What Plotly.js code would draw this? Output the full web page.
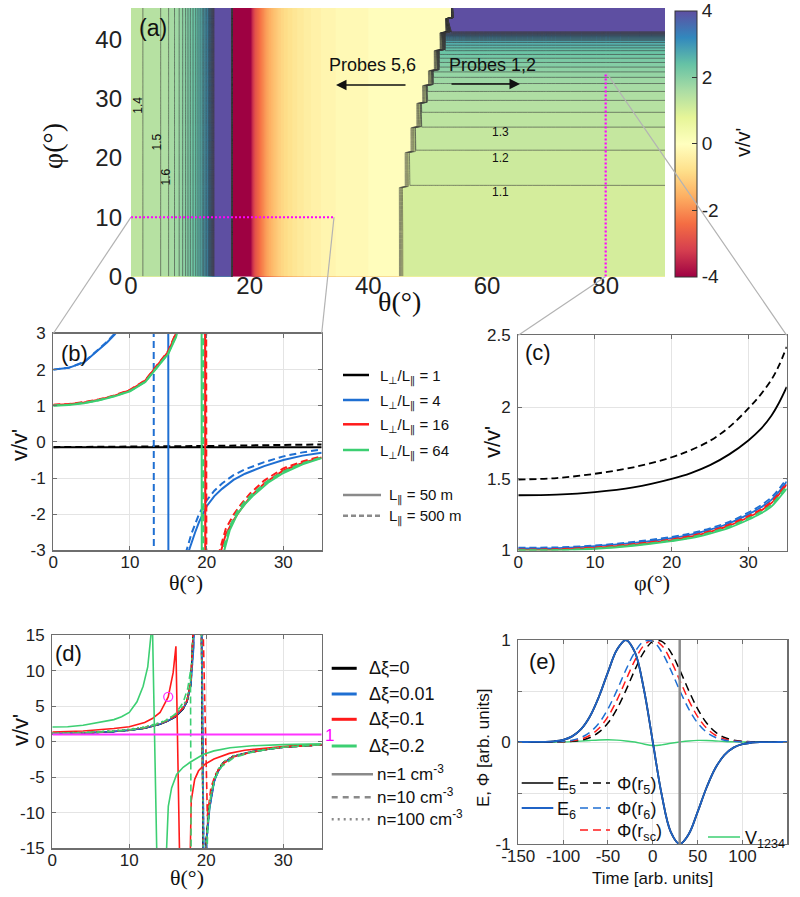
<!DOCTYPE html>
<html><head><meta charset="utf-8">
<script src="https://cdn.plot.ly/plotly-3.0.1.min.js"></script>
<style>html,body{margin:0;padding:0;background:#fff}#plot{width:800px;height:897px}</style>
</head><body><div id="plot"></div>
<script>
// ---------------- Panel (a) data ----------------
const thetaA = [0,2,4,5,6,7,8,9,10,11,12,13,13.5,14,15,16,16.95,17.05,18,19,20,20.5,21,22,23,24,25,26,28,30,32,35,40,44,45,46,47,48,49,50,51,52,53,54,55,56,60,70,80,90];
const leftV  = [1.35,1.40,1.47,1.5,1.57,1.66,1.78,1.95,2.2,2.42,2.7,3.1,3.5,4.0,5.2,7.5,20,-20,-9,-5.6,-4.3,-3.4,-2.8,-2.2,-1.7,-1.35,-1.05,-0.85,-0.6,-0.42,-0.3,-0.18,-0.1,-0.07,-0.06,-0.06,-0.05,-0.05,-0.05,-0.05,-0.05,-0.05,-0.05,-0.05,-0.05,-0.05,-0.04,-0.04,-0.04,-0.04];
const phiA   = [0,7.5,15.0,15.2,18,20.9,21.1,23,25.1,25.3,27.7,29.2,29.4,30.8,32.2,32.4,33.6,34.7,34.9,36.5,38.1,38.3,39.7,40.5,41.1,41.3,42.4,43.5,43.7,45.3];
const rightV = [1.0,1.02,1.093,1.097,1.145,1.192,1.195,1.24,1.297,1.303,1.40,1.47,1.48,1.57,1.67,1.685,1.8,1.92,1.945,2.15,2.4,2.44,2.75,3.2,3.8,4.0,6,10,12,20];
const edgeTheta = [46,46,46,47,47,47,48,48,48,49,49,49,50,50,50,51,51,51,52,52,52,53,53,53,53,54,54,54,55,55];
const cutPhi = 10, cutTheta = 80, cutSpan = [0, 34.3];
const cbTicks = [-4,-2,0,2,4];

// ---------------- Panel (b) data ----------------
const thB_k = [0,10,20,30,35];
const vB_k_s = [-0.145,-0.145,-0.145,-0.145,-0.145];
const vB_k_d = [-0.145,-0.135,-0.113,-0.085,-0.072];
const thB_b_s = [0,2,4,6,7,8,9,10,12,14,14.9,15.1,16,17,17.7,18.5,19,20,21,22,23.5,25,27.5,30,32.5,35];
const vB_b_s  = [2.0,2.05,2.2,2.55,2.75,2.97,3.25,3.6,4.8,8,40,-40,-6,-3.7,-3.0,-2.5,-2.22,-1.78,-1.5,-1.3,-1.05,-0.88,-0.67,-0.5,-0.38,-0.3];
const thB_b_d = [0,2,4,6,7,8,9,10,12,13.0,13.2,14,15,16,17.4,18,19,20,21,22,23.5,25,27.5,30,32.5,35];
const vB_b_d  = [2.0,2.05,2.21,2.57,2.77,3.0,3.3,3.7,6,40,-40,-10,-5.5,-4.0,-3.0,-2.55,-2.0,-1.62,-1.35,-1.15,-0.92,-0.76,-0.56,-0.4,-0.29,-0.21];
const thB_r_s = [0,2,4,6,8,10,12,13,14,15,16,16.5,17,18,19,19.7,19.9,20.5,21,21.9,22.5,23.5,24.5,25.7,27.5,30,32.5,35];
const vB_r_s  = [1.02,1.04,1.09,1.17,1.28,1.43,1.7,1.97,2.22,2.5,3.0,3.35,3.8,5,8,30,-30,-10,-6,-3.0,-2.55,-2.17,-1.85,-1.52,-1.15,-0.79,-0.58,-0.43];
const thB_r_d = [0,2,4,6,8,10,12,13,14,15,16,16.5,17,18,19,19.85,20.05,20.5,21,21.7,22.5,23.5,24.5,25.7,27.5,30,32.5,35];
const vB_r_d  = [1.03,1.05,1.1,1.18,1.29,1.44,1.71,1.98,2.24,2.52,3.02,3.4,3.85,5.1,8.5,30,-30,-12,-6.5,-3.0,-2.4,-2.02,-1.72,-1.42,-1.07,-0.73,-0.54,-0.4];
const thB_g_s = [0,2,4,6,8,10,12,13,14,15,16,16.5,17,18,19,19.25,19.45,20,21,22.3,23,24,25,26,28,30,32.5,35];
const vB_g_s  = [1.0,1.02,1.07,1.15,1.26,1.4,1.66,1.92,2.17,2.44,2.9,3.25,3.7,5,9,30,-30,-12,-5.5,-3.0,-2.45,-2.0,-1.72,-1.5,-1.13,-0.86,-0.62,-0.45];
const thB_g_d = [0,2,4,6,8,10,12,13,14,15,16,16.5,17,18,19,19.45,19.65,20,21,22.1,23,24,25,26,28,30,32.5,35];
const vB_g_d  = [1.01,1.03,1.08,1.16,1.27,1.41,1.67,1.93,2.19,2.46,2.93,3.3,3.75,5.1,9.5,30,-30,-12,-5.8,-3.0,-2.35,-1.92,-1.64,-1.43,-1.08,-0.82,-0.59,-0.43];

// ---------------- Panel (c) data ----------------
const phiC   = [0,5,10,15,20,22.5,25,27.5,30,31.5,33,34,35];
const vC_k_s = [1.385,1.39,1.407,1.44,1.5,1.54,1.595,1.67,1.767,1.84,1.94,2.03,2.14];
const vC_k_d = [1.495,1.505,1.535,1.58,1.65,1.70,1.765,1.86,1.99,2.08,2.19,2.29,2.42];
const vC_b_s = [1.015,1.017,1.03,1.053,1.087,1.111,1.145,1.19,1.252,1.296,1.353,1.41,1.48];
const vC_b_d = [1.02,1.022,1.035,1.06,1.095,1.12,1.155,1.2,1.265,1.31,1.37,1.43,1.5];
const vC_r_s = [1.004,1.006,1.018,1.04,1.073,1.096,1.13,1.173,1.232,1.274,1.33,1.39,1.46];
const vC_r_d = [1.008,1.01,1.022,1.045,1.078,1.102,1.135,1.18,1.24,1.283,1.34,1.4,1.47];
const vC_g_s = [1.0,1.002,1.012,1.033,1.065,1.086,1.118,1.158,1.214,1.254,1.306,1.365,1.43];
const vC_g_d = [1.002,1.004,1.015,1.037,1.07,1.092,1.125,1.167,1.225,1.266,1.32,1.38,1.45];

// ---------------- Panel (d) data ----------------
const thD_k  = [0,4,8,10,12,14,15,16,17,17.5,18,18.3,18.5,19.2,19.8,20.0,20.4,21.0,21.5,22.2,23.5,25.7,28,30,32.5,35];
const vD_k_s = [1.12,1.2,1.42,1.6,1.9,2.45,2.9,3.5,4.6,5.6,8.0,13,20,40,-40,-14,-9.3,-5.6,-4.2,-3.0,-2.1,-1.5,-1.05,-0.78,-0.57,-0.43];
const vD_k_d = [1.12,1.2,1.42,1.61,1.91,2.46,2.92,3.52,4.62,5.65,8.1,13.2,20,40,-40,-14,-9.2,-5.55,-4.15,-2.98,-2.08,-1.49,-1.04,-0.77,-0.57,-0.43];
const vD_k_p = [1.12,1.2,1.42,1.61,1.91,2.47,2.93,3.53,4.64,5.68,8.15,13.3,20,40,-40,-14,-9.2,-5.5,-4.1,-2.96,-2.07,-1.48,-1.04,-0.77,-0.56,-0.43];
const thD_b  = [0,4,8,10,12,14,15,16,17,17.5,18,18.35,18.55,19.25,19.85,20.05,20.45,21.05,21.55,22.25,23.5,25.7,28,30,32.5,35];
const vD_b_s = [1.13,1.21,1.43,1.62,1.92,2.48,2.93,3.55,4.65,5.7,8.0,13,20,40,-40,-14,-9.3,-5.6,-4.2,-3.0,-2.1,-1.5,-1.05,-0.78,-0.57,-0.43];
const vD_b_d = [1.13,1.21,1.43,1.62,1.93,2.49,2.95,3.57,4.68,5.74,8.1,13.2,20,40,-40,-14,-9.2,-5.55,-4.15,-2.97,-2.08,-1.49,-1.04,-0.77,-0.57,-0.43];
const vD_b_p = [1.13,1.21,1.44,1.63,1.93,2.5,2.96,3.58,4.7,5.76,8.15,13.3,20,40,-40,-14,-9.1,-5.5,-4.1,-2.95,-2.06,-1.48,-1.04,-0.77,-0.56,-0.43];
const thD_r_s = [0,4,8,10,12,13,14,15.06,15.7,16.06,16.55,17.9,18.05,18.5,19.0,19.8,21,23,25,28,31,35];
const vD_r_s  = [1.36,1.5,1.85,2.1,2.7,3.25,4.1,6.3,9.7,13.4,-17,-17,-8.3,-5.3,-4.1,-3.2,-2.45,-1.65,-1.2,-0.85,-0.6,-0.42];
const thD_r_d = [0,4,8,10,12,14,15,16,17,17.5,18,18.3,18.5,19.3,20.15,20.6,21.2,22.2,23.5,25.7,28,30,32.5,35];
const vD_r_d  = [1.15,1.24,1.47,1.66,1.97,2.53,3.0,3.62,4.75,5.8,8.3,13.5,20,30,-10.5,-6.5,-4.6,-3.1,-2.15,-1.52,-1.06,-0.79,-0.58,-0.43];
const vD_r_p  = [1.16,1.25,1.49,1.68,2.0,2.57,3.05,3.7,4.85,5.9,8.5,13.8,20,40,-40,-14,-9.0,-5.4,-4.0,-2.9,-2.05,-1.47,-1.03,-0.77,-0.56,-0.43];
const thD_g_s = [0,2,4,6,8,9,10,11,11.8,12.4,12.9,13.0,13.6,14.8,14.85,15.07,15.5,16.15,17,17.9,19.6,21,23.1,26,30,35];
const vD_g_s  = [2.05,2.1,2.3,2.65,3.1,3.5,4.1,5.6,7.8,10.5,15.5,17,-17,-17,-15,-9.1,-6.5,-4.6,-3.6,-2.9,-1.8,-1.3,-0.85,-0.58,-0.42,-0.3];
const thD_g_d = [0,4,8,10,12,14,15,16,17,17.6,17.95,18.05,20.0,20.2,20.6,21.2,22,23.5,25.7,28,30,32.5,35];
const vD_g_d  = [1.14,1.23,1.46,1.65,1.98,2.6,3.1,3.9,5.5,7.5,9.9,-20,-20,-12,-7.5,-5,-3.5,-2.3,-1.55,-1.06,-0.79,-0.58,-0.43];
const vD_g_p  = [1.2,1.3,1.55,1.75,2.08,2.68,3.18,3.85,5.05,6.1,8.8,14.2,20,40,-40,-14,-8.8,-5.3,-3.95,-2.85,-2.0,-1.45,-1.02,-0.76,-0.56,-0.42];
const refLevel = 1, markTheta = [15.06], markV = [6.3];

// ---------------- Panel (e) data ----------------
const tE   = [-150,-140,-130,-120,-110,-100,-90,-80,-70,-60,-50,-40,-30,-20,-10,0,10,20,30,40,50,60,70,80,90,100,110,120,130,140,150];
const E5   = [0,0,0.001,0.002,0.007,0.021,0.055,0.126,0.253,0.446,0.685,0.904,1.0,0.88,0.52,0,-0.52,-0.88,-1.0,-0.904,-0.685,-0.446,-0.253,-0.126,-0.055,-0.021,-0.007,-0.002,-0.001,0,0];
const E6   = [0,0,0.001,0.002,0.007,0.021,0.055,0.126,0.253,0.446,0.685,0.904,1.0,0.88,0.52,0,-0.52,-0.88,-1.0,-0.904,-0.685,-0.446,-0.253,-0.126,-0.055,-0.021,-0.007,-0.002,-0.001,0,0];
const Phi5 = [0,0,0,0.0002,0.0006,0.0022,0.0067,0.018,0.044,0.096,0.186,0.325,0.506,0.707,0.882,0.986,0.986,0.882,0.707,0.506,0.325,0.186,0.096,0.044,0.018,0.0067,0.0022,0.0006,0.0002,0,0];
const Phi6 = [0,0,0.0002,0.0006,0.0022,0.0067,0.018,0.044,0.096,0.186,0.325,0.506,0.707,0.882,0.986,0.986,0.882,0.707,0.506,0.325,0.186,0.096,0.044,0.018,0.0067,0.0022,0.0006,0.0002,0,0,0];
const PhiSc= [0,0,0,0.0003,0.0012,0.0039,0.011,0.029,0.066,0.135,0.249,0.411,0.607,0.801,0.946,1.0,0.946,0.801,0.607,0.411,0.249,0.135,0.066,0.029,0.011,0.0039,0.0012,0.0003,0,0,0];
const V1234= [0,0,0,0,0,0.001,0.004,0.009,0.015,0.02,0.022,0.018,0.01,0,-0.02,-0.035,-0.028,-0.012,0,0.01,0.016,0.015,0.01,0.005,0.002,0,0,0,0,0,0];
const tMark = 30;

// ---------------- helpers ----------------
const W = 800, H = 897;
const px = x => x / W, py = y => 1 - y / H;
const FONT = 'Liberation Sans, Arial, Helvetica, sans-serif';
const SERIF = 'Liberation Serif, Times New Roman, serif';
const BLUE = '#1f6fd2', RED = '#ff1a1a', GREEN = '#3ccf72', GRAY = '#8a8a8a';
const DASH = '7px,4px', DOT = '2px,3px';
const SPECTRAL = [[0,'#9e0142'],[0.1,'#d53e4f'],[0.2,'#f46d43'],[0.3,'#fdae61'],[0.4,'#fee08b'],[0.5,'#ffffbf'],[0.6,'#e6f598'],[0.7,'#abdda4'],[0.8,'#66c2a5'],[0.9,'#3288bd'],[1,'#5e4fa2']];

function ln(x, y, xa, ya, color, width, dash, shape) {
  return {type:'scatter', mode:'lines', x:x, y:y, xaxis:xa, yaxis:ya,
          line:{color:color, width:width, dash:dash || 'solid', shape:shape || 'linear'},
          hoverinfo:'skip', cliponaxis:true};
}

const zA = phiA.map((p, j) => thetaA.map((t, i) => (t >= edgeTheta[j] ? rightV[j] : leftV[i])));

const traces = [];
// (a) heatmap underlay carrying the continuous colour bar
traces.push({type:'heatmap', x:thetaA, y:phiA, z:zA, xaxis:'x', yaxis:'y', zmin:-4, zmax:4, zauto:false,
  colorscale:SPECTRAL, hoverinfo:'skip',
  colorbar:{x:px(675), xanchor:'left', y:py(10.5), yanchor:'top', len:265.5, lenmode:'pixels',
    thickness:22, thicknessmode:'pixels', xpad:0, ypad:0, outlinewidth:1, outlinecolor:'#333',
    ticks:'inside', ticklen:5, tickcolor:'#333', tickvals:cbTicks, ticktext:cbTicks.map(String),
    ticklabeloverflow:'allow',
    tickfont:{family:FONT, size:19, color:'#222'}, ticklabelstandoff:4}
});
// (a) filled contour
traces.push({type:'contour', x:thetaA, y:phiA, z:zA, xaxis:'x', yaxis:'y', showscale:false,
  zmin:-4, zmax:4, zauto:false, autocontour:false, colorscale:SPECTRAL,
  contours:{start:-4, end:4.05, size:0.1, coloring:'fill', showlines:false},
  line:{width:0, smoothing:0}, hoverinfo:'skip'});
const lineCs = [[0,'#3c3c3c'],[1,'#3c3c3c']];
traces.push({type:'contour', x:thetaA, y:phiA, z:zA, xaxis:'x', yaxis:'y', showscale:false,
  autocontour:false, contours:{start:0.2, end:0.8, size:0.2, coloring:'lines'}, colorscale:lineCs,
  line:{width:0.6, smoothing:0}, hoverinfo:'skip'});
traces.push({type:'contour', x:thetaA, y:phiA, z:zA, xaxis:'x', yaxis:'y', showscale:false,
  autocontour:false, contours:{start:1.1, end:4.0, size:0.1, coloring:'lines'}, colorscale:lineCs,
  line:{width:0.6, smoothing:0}, hoverinfo:'skip'});
traces.push(ln(cutSpan, [cutPhi, cutPhi], 'x', 'y', '#ff00ff', 2.2, '2px,2px'));
traces.push(ln([cutTheta, cutTheta], cutSpan, 'x', 'y', '#ff00ff', 2.2, '2px,2px'));

// (b)
traces.push(ln(thB_k, vB_k_s, 'x2', 'y2', '#000', 2));
traces.push(ln(thB_k, vB_k_d, 'x2', 'y2', '#000', 2, DASH));
traces.push(ln(thB_b_s, vB_b_s, 'x2', 'y2', BLUE, 2));
traces.push(ln(thB_b_d, vB_b_d, 'x2', 'y2', BLUE, 2, DASH));
traces.push(ln(thB_r_s, vB_r_s, 'x2', 'y2', RED, 2));
traces.push(ln(thB_r_d, vB_r_d, 'x2', 'y2', RED, 2, DASH));
traces.push(ln(thB_g_s, vB_g_s, 'x2', 'y2', GREEN, 2));
traces.push(ln(thB_g_d, vB_g_d, 'x2', 'y2', GREEN, 2, DASH));

// (c)
traces.push(ln(phiC, vC_k_s, 'x3', 'y3', '#000', 1.8, 'solid', 'spline'));
traces.push(ln(phiC, vC_k_d, 'x3', 'y3', '#000', 1.8, DASH, 'spline'));
traces.push(ln(phiC, vC_b_s, 'x3', 'y3', BLUE, 1.8, 'solid', 'spline'));
traces.push(ln(phiC, vC_b_d, 'x3', 'y3', BLUE, 1.8, DASH, 'spline'));
traces.push(ln(phiC, vC_r_s, 'x3', 'y3', RED, 1.8, 'solid', 'spline'));
traces.push(ln(phiC, vC_r_d, 'x3', 'y3', RED, 1.8, DASH, 'spline'));
traces.push(ln(phiC, vC_g_s, 'x3', 'y3', GREEN, 1.8, 'solid', 'spline'));
traces.push(ln(phiC, vC_g_d, 'x3', 'y3', GREEN, 1.8, DASH, 'spline'));

// (d)
traces.push(ln(thD_k, vD_k_s, 'x4', 'y4', '#000', 1.6));
traces.push(ln(thD_k, vD_k_d, 'x4', 'y4', '#000', 1.6, DASH));
traces.push(ln(thD_k, vD_k_p, 'x4', 'y4', '#000', 1.6, DOT));
traces.push(ln(thD_b, vD_b_s, 'x4', 'y4', BLUE, 1.6));
traces.push(ln(thD_b, vD_b_d, 'x4', 'y4', BLUE, 1.6, DASH));
traces.push(ln(thD_b, vD_b_p, 'x4', 'y4', BLUE, 1.6, DOT));
traces.push(ln(thD_r_s, vD_r_s, 'x4', 'y4', RED, 1.6));
traces.push(ln(thD_r_d, vD_r_d, 'x4', 'y4', RED, 1.6, DASH));
traces.push(ln(thD_k, vD_r_p, 'x4', 'y4', RED, 1.6, DOT));
traces.push(ln(thD_g_s, vD_g_s, 'x4', 'y4', GREEN, 1.6));
traces.push(ln(thD_g_d, vD_g_d, 'x4', 'y4', GREEN, 1.6, DASH));
traces.push(ln(thD_k, vD_g_p, 'x4', 'y4', GREEN, 1.6, DOT));
traces.push(ln([0, 35], [refLevel, refLevel], 'x4', 'y4', '#ff33ff', 2));
traces.push({type:'scatter', mode:'markers', x:markTheta, y:markV, xaxis:'x4', yaxis:'y4',
  marker:{symbol:'circle-open', size:9, color:'#ff33ff', line:{width:1.3, color:'#ff33ff'}}, hoverinfo:'skip'});

// (e)
traces.push(ln(tE, V1234, 'x5', 'y5', GREEN, 1.4, 'solid', 'spline'));
traces.push(ln(tE, Phi5, 'x5', 'y5', '#000', 1.5, '8px,5px', 'spline'));
traces.push(ln(tE, PhiSc, 'x5', 'y5', RED, 1.5, '8px,5px', 'spline'));
traces.push(ln(tE, Phi6, 'x5', 'y5', BLUE, 1.5, '8px,5px', 'spline'));
traces.push(ln(tE, E5, 'x5', 'y5', '#000', 1.8, 'solid', 'spline'));
traces.push(ln(tE, E6, 'x5', 'y5', '#1f63c6', 1.8, 'solid', 'spline'));
traces.push(ln([tMark, tMark], [-1, 1], 'x5', 'y5', '#8c8c8c', 2.5));

// ---------------- layout ----------------
const frame = {showline:true, linecolor:'#6e6e6e', linewidth:1.2, mirror:'ticks', ticks:'inside', ticklen:4,
  tickcolor:'#6e6e6e', showgrid:true, gridcolor:'#e4e4e4', gridwidth:1, zeroline:false,
  tickfont:{family:FONT, size:17, color:'#222'}, fixedrange:true, ticklabelstandoff:3};
const xframe = Object.assign({}, frame, {ticklabelstandoff:-4});
const neg = v => v.map(t => String(t));

const layout = {
  width:W, height:H, margin:{l:0, r:0, t:0, b:0}, paper_bgcolor:'#fff', plot_bgcolor:'#fff',
  showlegend:false, font:{family:FONT, color:'#222'},
  xaxis:{domain:[px(131), px(665)], anchor:'y', range:[0,90], tickvals:[0,20,40,60,80], ticks:'',
    showgrid:false, zeroline:false, showline:false, tickfont:{family:FONT, size:24, color:'#222'}, ticklabelstandoff:-8},
  yaxis:{domain:[py(276.5), py(8)], anchor:'x', range:[0,45.3], tickvals:[0,10,20,30,40], ticks:'',
    showgrid:false, zeroline:false, showline:false, tickfont:{family:FONT, size:24, color:'#222'}, ticklabelstandoff:8},
  xaxis2:Object.assign({}, xframe, {domain:[px(53.3), px(321.7)], anchor:'y2', range:[0,35], tickvals:[0,10,20,30]}),
  yaxis2:Object.assign({}, frame, {domain:[py(550.3), py(333.5)], anchor:'x2', range:[-3,3], tickvals:[-3,-2,-1,0,1,2,3], ticktext:neg([-3,-2,-1,0,1,2,3])}),
  xaxis3:Object.assign({}, xframe, {domain:[px(518.3), px(786.7)], anchor:'y3', range:[0,35], tickvals:[0,10,20,30]}),
  yaxis3:Object.assign({}, frame, {domain:[py(550.5), py(335.3)], anchor:'x3', range:[1,2.5], tickvals:[1,1.5,2,2.5], ticktext:['1','1.5','2','2.5']}),
  xaxis4:Object.assign({}, xframe, {domain:[px(52.3), px(321.7)], anchor:'y4', range:[0,35], tickvals:[0,10,20,30]}),
  yaxis4:Object.assign({}, frame, {domain:[py(848.3), py(635)], anchor:'x4', range:[-15,15], tickvals:[-15,-10,-5,0,5,10,15], ticktext:neg([-15,-10,-5,0,5,10,15])}),
  xaxis5:Object.assign({}, xframe, {domain:[px(518.3), px(787.3)], anchor:'y5', range:[-150,150], tickvals:[-150,-100,-50,0,50,100,150], ticktext:neg([-150,-100,-50,0,50,100,150])}),
  yaxis5:Object.assign({}, frame, {domain:[py(844), py(640)], anchor:'x5', range:[-1,1], tickvals:[-1,-0.5,0,0.5,1], ticktext:['-1',' ','0',' ','1']}),
  annotations:[], shapes:[]
};

function ann(text, x, y, size, o) {
  o = o || {};
  layout.annotations.push(Object.assign({text:text, x:px(x), y:py(y), xref:'paper', yref:'paper', showarrow:false,
    xanchor:'center', yanchor:'middle', font:{family:FONT, size:size, color:'#111'}}, o));
}
function seg(x0, y0, x1, y1, color, width, dash) {
  layout.shapes.push({type:'line', xref:'paper', yref:'paper', x0:px(x0), y0:py(y0), x1:px(x1), y1:py(y1),
    line:{color:color, width:width, dash:dash || 'solid'}, layer:'above'});
}
function arrowLine(x0, y0, x1, y1, color, width, head) {
  layout.annotations.push({text:'', x:px(x1), y:py(y1), xref:'paper', yref:'paper', ax:x0 - x1, ay:y0 - y1,
    axref:'pixel', ayref:'pixel', showarrow:true, arrowhead:head || 0, arrowsize:1.4, arrowwidth:width,
    arrowcolor:color, standoff:0, startstandoff:0});
}

// panel labels
ann('(a)', 137, 28, 23, {xanchor:'left'});
ann('(b)', 59, 353, 22, {xanchor:'left'});
ann('(c)', 523, 352, 22, {xanchor:'left'});
ann('(d)', 53, 653, 22, {xanchor:'left'});
ann('(e)', 527, 661, 22, {xanchor:'left'});
// axis titles
ann('θ(°)', 399, 301, 28, {font:{family:SERIF, size:28, color:'#111'}});
ann('φ(°)', 52, 146, 28, {textangle:-90, font:{family:SERIF, size:28, color:'#111'}});
ann("v/v'", 743, 143, 20, {textangle:-90});
ann('θ(°)', 186, 582, 22, {font:{family:SERIF, size:22, color:'#111'}});
ann('θ(°)', 187, 877, 22, {font:{family:SERIF, size:22, color:'#111'}});
ann('φ(°)', 652, 582, 22, {font:{family:SERIF, size:22, color:'#111'}});
ann("v/v'", 20, 445, 22, {textangle:-90});
ann("v/v'", 20, 730, 22, {textangle:-90});
ann("v/v'", 493, 442, 22, {textangle:-90});
ann('Time [arb. units]', 652, 878, 17);
ann('E, Φ [arb. units]', 483, 748, 17, {textangle:-90});
// (a) annotations
ann('Probes 5,6', 372, 65, 18);
ann('Probes 1,2', 492, 65, 18);
arrowLine(407, 85, 336, 85, '#111', 1.5, 2);
arrowLine(450, 84, 520, 84, '#111', 1.5, 2);
ann('1.1', 500, 191.5, 12);
ann('1.2', 500, 157.5, 12);
ann('1.3', 500, 132.5, 12);
ann('1.4', 138, 105.7, 12, {textangle:-90});
ann('1.5', 156.7, 141.7, 12, {textangle:-90});
ann('1.6', 165, 177.5, 12, {textangle:-90});
// magenta label in (d)
ann('1', 323, 735, 17, {xanchor:'left', font:{family:FONT, size:17, color:'#ff00ff'}});

// connectors
const CONN = '#b3b3b3';
seg(131, 217.2, 53.3, 333.5, CONN, 1.2);
seg(334, 217.2, 321.7, 333.5, CONN, 1.2);
seg(605.6, 276.5, 518.3, 335.3, CONN, 1.2);
arrowLine(605.6, 71.7, 786.7, 335.3, CONN, 1.2, 0);

// legend (b)
const SYM = s => '<span style="font-family:DejaVu Sans">' + s + '</span>';
const legB = [['#000', 375, '= 1'], [BLUE, 400, '= 4'], [RED, 424.3, '= 16'], [GREEN, 450, '= 64']];
legB.forEach(r => { seg(343, r[1], 369, r[1], r[0], 2.5);
  ann('L<sub>' + SYM('⊥') + '</sub>/L<sub>' + SYM('∥') + '</sub> ' + r[2], 378, r[1] + 1.5, 15, {xanchor:'left'}); });
seg(343, 495, 381, 495, GRAY, 2.5);
ann('L<sub>' + SYM('∥') + '</sub> = 50 m', 387, 496.5, 15, {xanchor:'left'});
seg(343, 515.7, 381, 515.7, GRAY, 2.5, '5px,3px');
ann('L<sub>' + SYM('∥') + '</sub> = 500 m', 387, 517.2, 15, {xanchor:'left'});

// legend (d)
const legD = [['#000', 668.3, 'Δξ=0'], [BLUE, 694, 'Δξ=0.01'], [RED, 719.3, 'Δξ=0.1'], [GREEN, 746, 'Δξ=0.2']];
legD.forEach(r => { seg(331.7, r[1], 356.7, r[1], r[0], 3); ann(r[2], 366.7, r[1], 18, {xanchor:'left'}); });
const legD2 = [['solid', 774.3, 'n=1 cm<sup>-3</sup>'], ['6px,5px', 797.3, 'n=10 cm<sup>-3</sup>'], ['2px,4px', 819.3, 'n=100 cm<sup>-3</sup>']];
legD2.forEach(r => { seg(331.7, r[1], 373, r[1], GRAY, 2.5, r[0]); ann(r[2], 375, r[1] - 1, 17, {xanchor:'left'}); });

// legend (e)
seg(521.7, 783, 553.3, 783, '#000', 1.5);
ann('E<sub>5</sub>', 555, 785, 18, {xanchor:'left'});
seg(580, 783, 610, 783, '#000', 1.5, '8px,5px');
ann('Φ(r<sub>5</sub>)', 615, 785, 18, {xanchor:'left'});
seg(521.7, 808, 553.3, 808, '#1f63c6', 1.8);
ann('E<sub>6</sub>', 555, 810, 18, {xanchor:'left'});
seg(580, 808, 610, 808, BLUE, 1.5, '8px,5px');
ann('Φ(r<sub>6</sub>)', 615, 810, 18, {xanchor:'left'});
seg(580, 830, 610, 830, RED, 1.5, '8px,5px');
ann('Φ(r<sub>sc</sub>)', 615, 832, 18, {xanchor:'left'});
seg(708, 837, 740, 837, GREEN, 1.5);
ann('V<sub>1234</sub>', 743, 839, 18, {xanchor:'left'});

Plotly.newPlot('plot', traces, layout, {staticPlot:true, displayModeBar:false});
</script></body></html>
